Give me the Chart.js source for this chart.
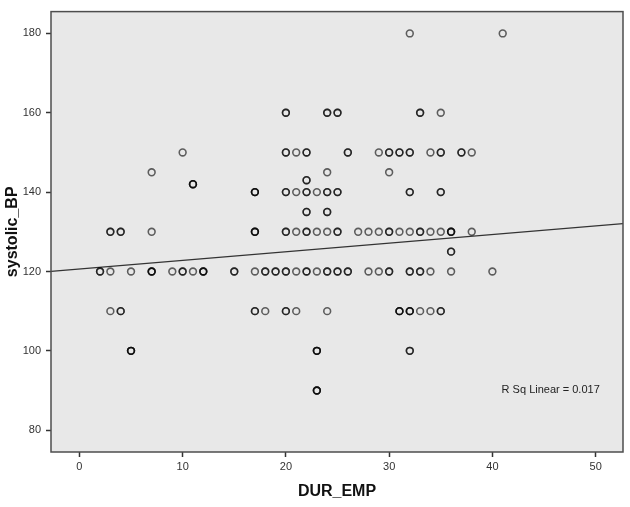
<!DOCTYPE html>
<html>
<head>
<meta charset="utf-8">
<script src="https://cdn.jsdelivr.net/npm/chart.js@4/dist/chart.umd.min.js"></script>
<style>
    body { margin: 0; background: #fff; }
</style>
</head>
<body>
<canvas id="scatter" width="630" height="507"></canvas>
<script>
// DUR_EMP values of the cases at each systolic_BP level
// (a value listed more than once = overlapping cases, drawn darker)
const bp180 = [32, 41]
const bp160 = [20, 20, 24, 24, 25, 25, 33, 33, 35]
const bp150 = [10, 20, 20, 21, 22, 22, 26, 26, 29, 30, 30, 31, 31, 32, 32, 34, 35, 35, 37, 37, 38]
const bp145 = [7, 24, 30]
const bp143 = [22, 22]
const bp142 = [11, 11, 11]
const bp140 = [17, 17, 17, 20, 20, 21, 22, 22, 23, 24, 24, 25, 25, 32, 32, 35, 35]
const bp135 = [22, 22, 24, 24]
const bp130 = [3, 3, 4, 4, 7, 17, 17, 17, 20, 20, 21, 22, 22, 23, 24, 25, 25, 27, 28, 29, 30, 30, 31, 32, 33, 33, 34, 35, 36, 36, 36, 38]
const bp125 = [36, 36]
const bp120 = [2, 2, 3, 5, 7, 7, 7, 9, 10, 10, 11, 12, 12, 12, 15, 15, 17, 18, 18, 19, 19, 20, 20, 21, 22, 22, 23, 24, 24, 25, 25, 26, 26, 28, 29, 30, 30, 32, 32, 33, 33, 34, 36, 40]
const bp110 = [3, 4, 4, 17, 17, 18, 20, 20, 21, 24, 31, 31, 31, 32, 32, 32, 33, 34, 35, 35]
const bp100 = [5, 5, 5, 23, 23, 23, 32, 32]
const bp90 = [23, 23, 23]

const bpLevels = [180, 160, 150, 145, 143, 142, 140, 135, 130, 125, 120, 110, 100, 90]
const bpRows = [bp180, bp160, bp150, bp145, bp143, bp142, bp140, bp135, bp130, bp125, bp120, bp110, bp100, bp90]

// fit line
const fitIntercept = 120.6
const fitSlope = 0.218
const rSqText = "R Sq Linear = 0.017"

const xTicks = [0, 10, 20, 30, 40, 50]
const yTicks = [80, 100, 120, 140, 160, 180]
const xRange = [-2.75, 52.65]
const yRange = [74.5, 185.5]

let points = []
bpRows.forEach((row, i) => {
    row.forEach(x => points.push({ x: x, y: bpLevels[i] }))
})

const fitLine = xRange.map(x => ({ x: x, y: fitIntercept + fitSlope * x }))

const fontFamily = "'Liberation Sans', Arial, sans-serif"

const plotFrame = {
    id: 'plotFrame',
    beforeDatasetsDraw(chart) {
        const { ctx, chartArea: a } = chart
        ctx.save()
        ctx.fillStyle = '#e8e8e8'
        ctx.fillRect(a.left, a.top, a.right - a.left, a.bottom - a.top)
        ctx.restore()
    },
    afterDraw(chart) {
        const { ctx, chartArea: a, scales } = chart
        ctx.save()
        ctx.strokeStyle = '#4d4d4d'
        ctx.lineWidth = 1.5
        ctx.strokeRect(a.left, a.top, a.right - a.left, a.bottom - a.top)

        ctx.fillStyle = '#222'
        ctx.font = `11px ${fontFamily}`
        ctx.textAlign = 'right'
        ctx.textBaseline = 'middle'
        ctx.fillText(rSqText, scales.x.getPixelForValue(50.4), scales.y.getPixelForValue(90.1))
        ctx.restore()
    }
}

new Chart("scatter", {
    type: "scatter",
    data: {
        datasets: [{
            data: points,
            pointStyle: 'circle',
            pointRadius: 3.4,
            pointHoverRadius: 3.4,
            borderWidth: 1.6,
            borderColor: 'rgba(0, 0, 0, 0.6)',
            backgroundColor: 'rgba(0, 0, 0, 0)',
        }, {
            type: 'line',
            data: fitLine,
            borderColor: '#333',
            borderWidth: 1.2,
            pointRadius: 0,
            fill: false,
        }]
    },
    options: {
        responsive: false,
        animation: false,
        layout: {
            padding: { top: 6, right: 7, left: 0, bottom: 0 },
        },
        plugins: {
            legend: { display: false },
            tooltip: { enabled: false },
        },
        scales: {
            x: {
                type: 'linear',
                min: xRange[0],
                max: xRange[1],
                afterBuildTicks: s => { s.ticks = xTicks.map(v => ({ value: v })) },
                afterFit: s => { s.height = 55 },
                grid: {
                    drawOnChartArea: false,
                    drawTicks: true,
                    tickLength: 5,
                    tickColor: '#333',
                    tickWidth: 1.5,
                },
                border: { display: false },
                ticks: {
                    color: '#333',
                    padding: 3,
                    maxRotation: 0,
                    font: { family: fontFamily, size: 11 },
                },
                title: {
                    display: true,
                    text: 'DUR_EMP',
                    color: '#111',
                    padding: { top: 6, bottom: 6 },
                    font: { family: fontFamily, size: 16, weight: 'bold' },
                },
            },
            y: {
                type: 'linear',
                min: yRange[0],
                max: yRange[1],
                afterBuildTicks: s => { s.ticks = yTicks.map(v => ({ value: v })) },
                afterFit: s => { s.width = 51 },
                grid: {
                    drawOnChartArea: false,
                    drawTicks: true,
                    tickLength: 5,
                    tickColor: '#333',
                    tickWidth: 1.5,
                },
                border: { display: false },
                ticks: {
                    color: '#333',
                    padding: 5,
                    font: { family: fontFamily, size: 11 },
                },
                title: {
                    display: true,
                    text: 'systolic_BP',
                    color: '#111',
                    padding: { top: 3, bottom: 3 },
                    font: { family: fontFamily, size: 16, weight: 'bold' },
                },
            },
        },
    },
    plugins: [plotFrame],
})
</script>
</body>
</html>
